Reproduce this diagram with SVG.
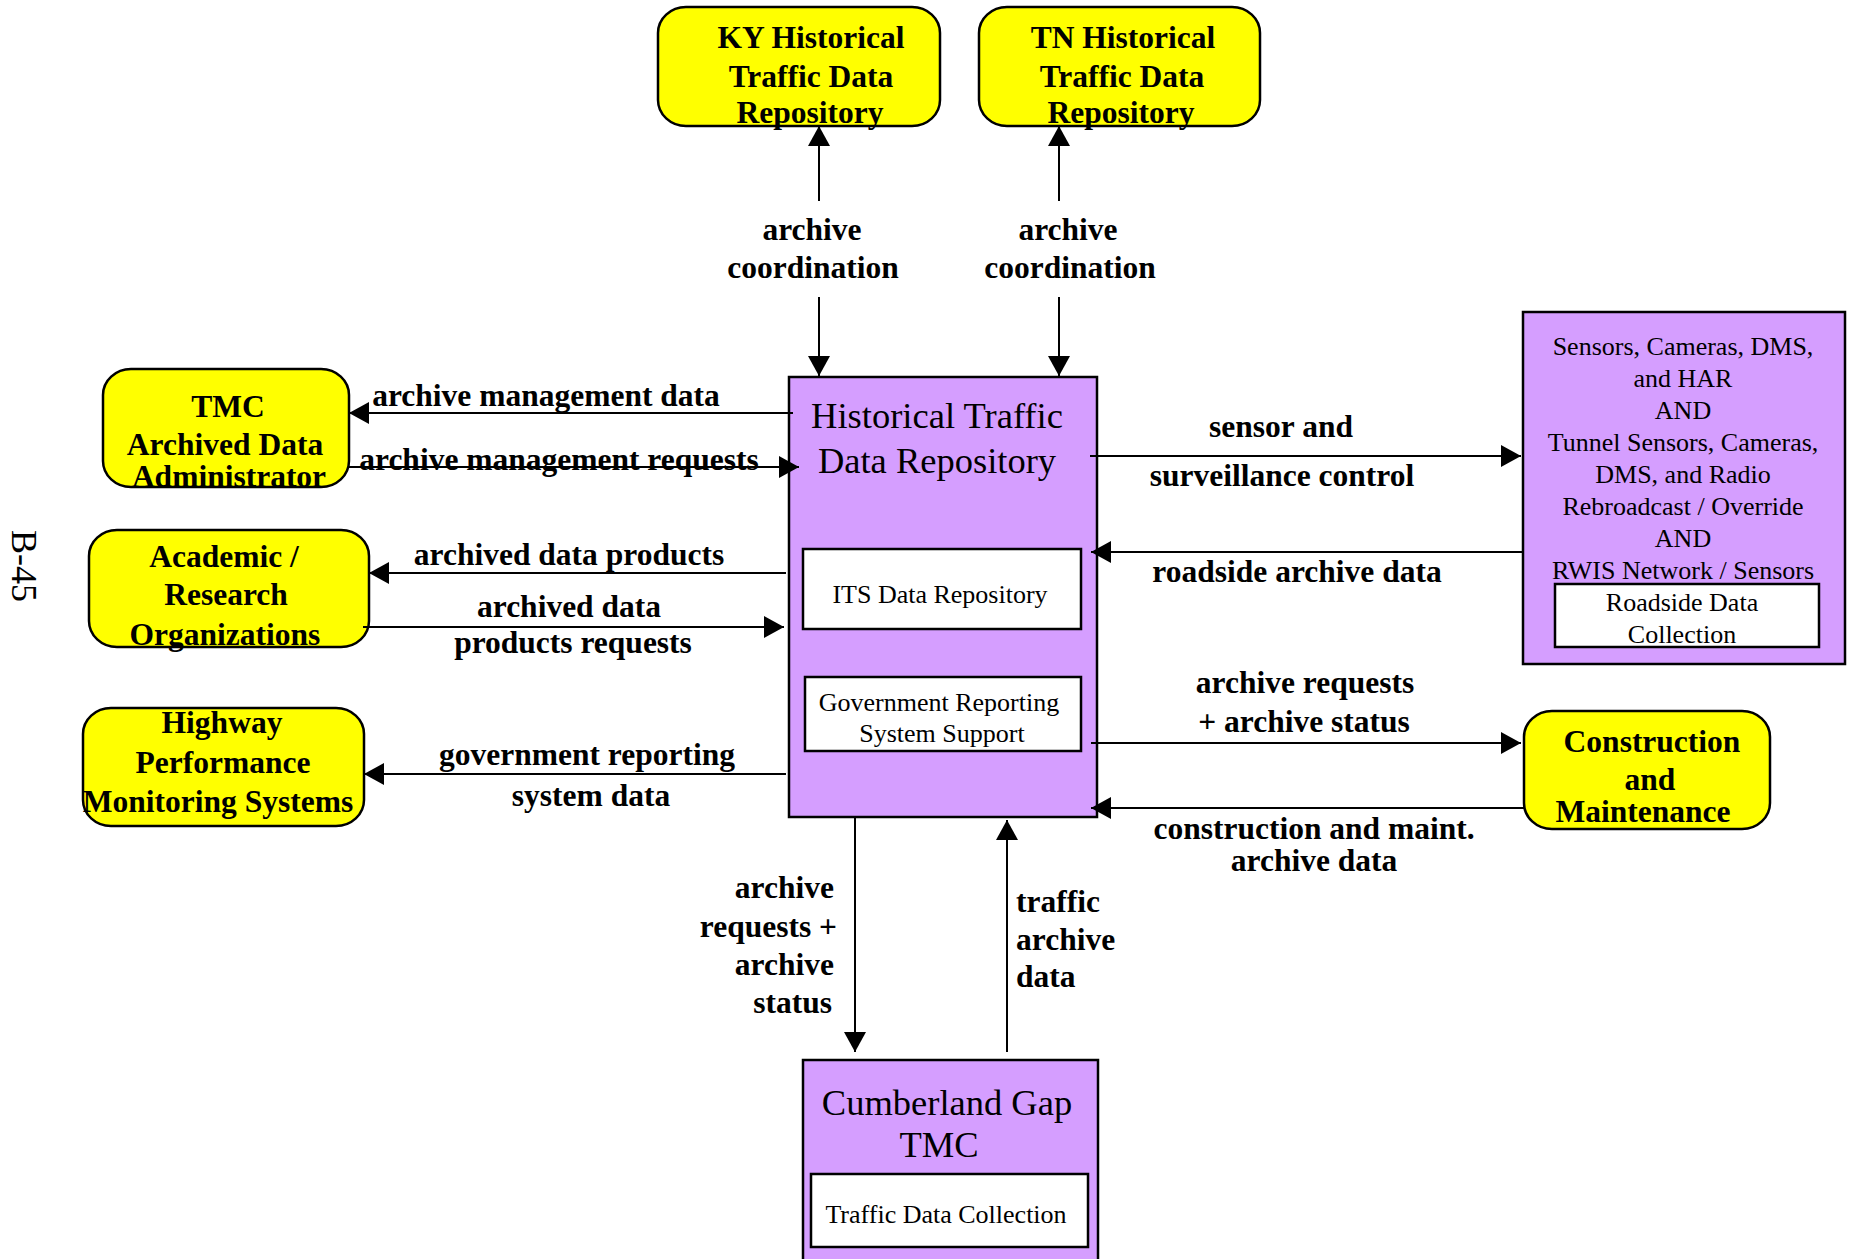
<svg xmlns="http://www.w3.org/2000/svg" width="1850" height="1259" viewBox="0 0 1850 1259">
<defs>
<marker id="ah" markerUnits="userSpaceOnUse" viewBox="0 0 20 22" refX="20" refY="11" markerWidth="20" markerHeight="22" orient="auto">
<path d="M0,0 L20,11 L0,22 z" fill="#000"/>
</marker>
<style>
.yel{fill:#FFFF00;stroke:#000;stroke-width:2.5}
.pur{fill:#D59EFF;stroke:#000;stroke-width:2.5}
.sub{fill:#FFFFFF;stroke:#000;stroke-width:2.5}
.b{font-family:"Liberation Serif","Times New Roman",serif;font-weight:bold;font-size:31.5px;fill:#000;text-anchor:middle}
.b.e{text-anchor:end}
.b.s{text-anchor:start}
.t{font-family:"Liberation Serif","Times New Roman",serif;font-size:26px;fill:#000;text-anchor:middle}
.big{font-family:"Liberation Serif","Times New Roman",serif;font-size:36.5px;fill:#000;text-anchor:middle}
.ln{stroke:#000;stroke-width:2;fill:none;marker-end:url(#ah)}
</style>
</defs>
<rect width="1850" height="1259" fill="#FFFFFF"/>
<text transform="translate(12,530) rotate(90)" font-family="Liberation Serif, Times New Roman, serif" font-size="36" fill="#000">B-45</text>

<g id="ky">
<rect class="yel" x="658" y="7" width="282" height="119" rx="28" ry="26"/>
<text class="b" x="811" y="48">KY Historical</text>
<text class="b" x="811" y="87">Traffic Data</text>
<text class="b" x="810" y="123">Repository</text>
</g>
<g id="tn">
<rect class="yel" x="979" y="7" width="281" height="119" rx="28" ry="26"/>
<text class="b" x="1123" y="48">TN Historical</text>
<text class="b" x="1122" y="87">Traffic Data</text>
<text class="b" x="1121" y="123">Repository</text>
</g>
<g id="tmc">
<rect class="yel" x="103" y="369" width="246" height="118" rx="28" ry="26"/>
<text class="b" x="228" y="417">TMC</text>
<text class="b" x="225" y="455">Archived Data</text>
<text class="b" x="229" y="487">Administrator</text>
</g>
<g id="academic">
<rect class="yel" x="89" y="530" width="280" height="117" rx="28" ry="26"/>
<text class="b" x="224" y="567">Academic /</text>
<text class="b" x="226" y="605">Research</text>
<text class="b" x="225" y="645">Organizations</text>
</g>
<g id="highway">
<rect class="yel" x="83" y="708" width="281" height="118" rx="28" ry="26"/>
<text class="b" x="222" y="733">Highway</text>
<text class="b" x="223" y="773">Performance</text>
<text class="b" x="218" y="812">Monitoring Systems</text>
</g>
<g id="construction">
<rect class="yel" x="1524" y="711" width="246" height="118" rx="28" ry="26"/>
<text class="b" x="1652" y="752">Construction</text>
<text class="b" x="1650" y="790">and</text>
<text class="b" x="1643" y="822">Maintenance</text>
</g>
<g id="repository">
<rect class="pur" x="789" y="377" width="308" height="440"/>
<text class="big" x="937" y="428">Historical Traffic</text>
<text class="big" x="937" y="473">Data Repository</text>
<rect class="sub" x="803" y="549" width="278" height="80"/>
<text class="t" x="940" y="603">ITS Data Repository</text>
<rect class="sub" x="805" y="677" width="276" height="74"/>
<text class="t" x="939" y="711">Government Reporting</text>
<text class="t" x="942" y="742">System Support</text>
</g>
<g id="sensors">
<rect class="pur" x="1523" y="312" width="322" height="352"/>
<text class="t" x="1683" y="355">Sensors, Cameras, DMS,</text>
<text class="t" x="1683" y="387">and HAR</text>
<text class="t" x="1683" y="419">AND</text>
<text class="t" x="1683" y="451">Tunnel Sensors, Cameras,</text>
<text class="t" x="1683" y="483">DMS, and Radio</text>
<text class="t" x="1683" y="515">Rebroadcast / Override</text>
<text class="t" x="1683" y="547">AND</text>
<text class="t" x="1683" y="579">RWIS Network / Sensors</text>
<rect class="sub" x="1555" y="584" width="264" height="63"/>
<text class="t" x="1682" y="611">Roadside Data</text>
<text class="t" x="1682" y="643">Collection</text>
</g>
<g id="cumberland">
<rect class="pur" x="803" y="1060" width="295" height="210"/>
<text class="big" x="947" y="1115" font-size="37">Cumberland Gap</text>
<text class="big" x="939" y="1157" font-size="37">TMC</text>
<rect class="sub" x="811" y="1174" width="277" height="73"/>
<text class="t" x="946" y="1223">Traffic Data Collection</text>
</g>

<g id="connectors">
<path class="ln" d="M819,201 L819,126"/>
<path class="ln" d="M819,297 L819,376"/>
<text class="b" x="812" y="240">archive</text>
<text class="b" x="813" y="278">coordination</text>
<path class="ln" d="M1059,201 L1059,126"/>
<path class="ln" d="M1059,297 L1059,376"/>
<text class="b" x="1068" y="240">archive</text>
<text class="b" x="1070" y="278">coordination</text>

<path class="ln" d="M793,413 L349,413"/>
<text class="b" x="546" y="406">archive management data</text>
<text class="b" x="559" y="470">archive management requests</text>
<path class="ln" d="M348,467 L799,467"/>

<path class="ln" d="M786,573 L369,573"/>
<text class="b" x="569" y="565">archived data products</text>
<path class="ln" d="M363,627 L784,627"/>
<text class="b" x="569" y="617">archived data</text>
<text class="b" x="573" y="653">products requests</text>

<path class="ln" d="M786,774 L364,774"/>
<text class="b" x="587" y="765">government reporting</text>
<text class="b" x="591" y="806">system data</text>

<path class="ln" d="M1090,456 L1521,456"/>
<text class="b" x="1281" y="437">sensor and</text>
<text class="b" x="1282" y="486">surveillance control</text>

<path class="ln" d="M1523,552 L1091,552"/>
<text class="b" x="1297" y="582">roadside archive data</text>

<path class="ln" d="M1091,743 L1521,743"/>
<text class="b" x="1305" y="693">archive requests</text>
<text class="b" x="1304" y="732">+ archive status</text>

<path class="ln" d="M1524,808 L1091,808"/>
<text class="b" x="1314" y="839">construction and maint.</text>
<text class="b" x="1314" y="871">archive data</text>

<path class="ln" d="M855,817 L855,1052"/>
<text class="b e" x="834" y="898">archive</text>
<text class="b e" x="837" y="937">requests +</text>
<text class="b e" x="834" y="975">archive</text>
<text class="b e" x="832" y="1013">status</text>

<path class="ln" d="M1007,1052 L1007,820"/>
<text class="b s" x="1016" y="912">traffic</text>
<text class="b s" x="1016" y="950">archive</text>
<text class="b s" x="1016" y="987">data</text>
</g>
</svg>
